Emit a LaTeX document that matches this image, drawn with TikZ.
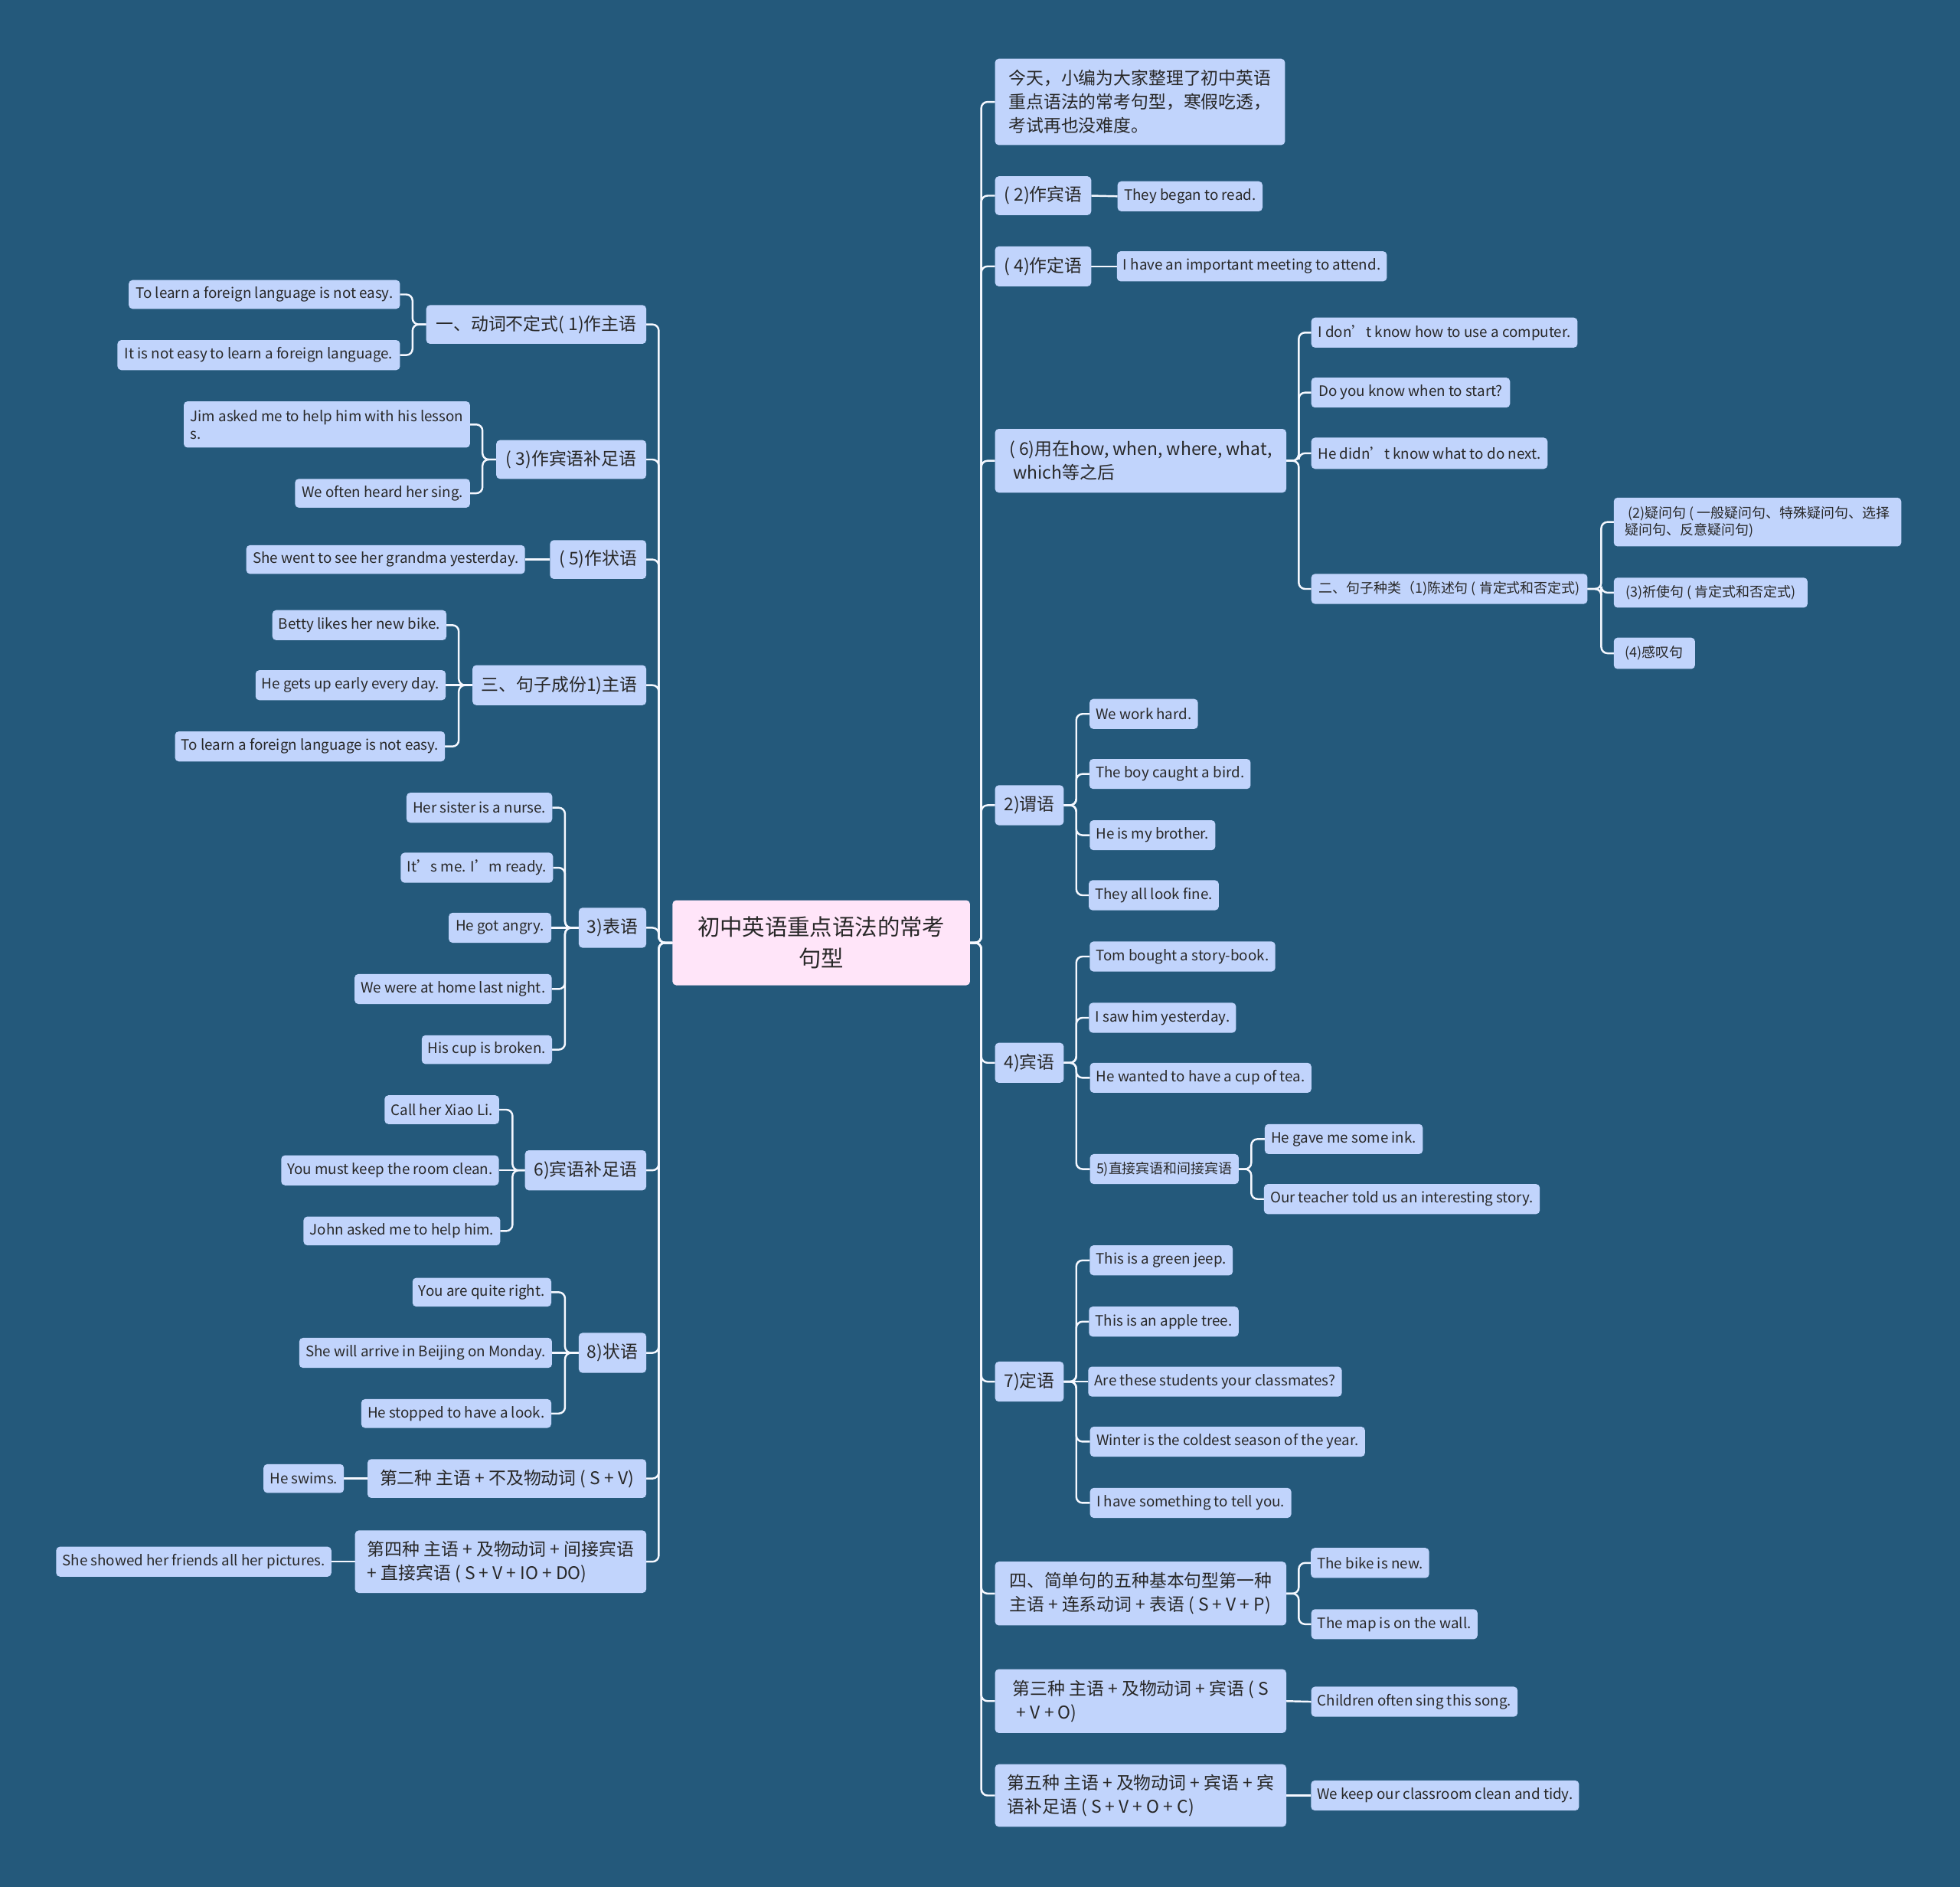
\documentclass[tikz,border=0pt]{standalone}
\usepackage{fontspec}
\setmainfont{Noto Sans CJK SC}
\definecolor{bgc}{RGB}{36,89,123}
\definecolor{nodec}{RGB}{193,212,252}
\definecolor{rootc}{RGB}{255,229,249}
\definecolor{txt}{RGB}{40,40,40}
\definecolor{linec}{RGB}{245,248,255}
\pgfdeclarelayer{bg}
\pgfdeclarelayer{lines}
\pgfsetlayers{bg,lines,main}
\tikzset{
 base/.style={rectangle, rounded corners=3pt, fill=nodec, text=txt, inner xsep=5pt, inner ysep=2pt, outer sep=0pt},
 mid/.style={base, font=\fontsize{14}{19}\selectfont},
 midm/.style={mid, align=left},
 leaf/.style={base, font=\fontsize{11.5}{14}\selectfont},
 leafm/.style={leaf, align=left},
 leafc/.style={base, font=\fontsize{11}{14}\selectfont},
 leafcm/.style={leafc, align=left},
 rootst/.style={base, fill=rootc, font=\fontsize{18}{25}\selectfont, align=center},
 conn/.style={draw=linec, line width=1.5pt, rounded corners=5pt},
}
\newcommand\bx[7]{\node[#6,minimum width={#4-#2},minimum height={#5-#3}] (#1) at ({(#2+#4)/2},{(#3+#5)/2}) {#7};}
\begin{document}
\begin{tikzpicture}[x=1pt,y=-1pt]
\begin{pgfonlayer}{bg}
\fill[bgc] (0,0) rectangle (1568,1509);
\end{pgfonlayer}
\useasboundingbox (0,0) rectangle (1568,1509);
% root
\bx{root}{538}{720}{776}{788}{rootst}{初中英语重点语法的常考\\句型}
% left side
\bx{l1}{341}{244}{517}{275}{mid}{一、动词不定式( 1)作主语}
\bx{l1a}{103}{224}{320}{247}{leaf}{To learn a foreign language is not easy.}
\bx{l1b}{94}{272}{320}{296}{leaf}{It is not easy to learn a foreign language.}
\bx{l2}{397}{352}{517}{383}{mid}{( 3)作宾语补足语}
\bx{l2a}{147}{321}{376}{358}{leafm}{Jim asked me to help him with his lesson\\s.}
\bx{l2b}{236}{383}{376}{406}{leaf}{We often heard her sing.}
\bx{l3}{440}{432}{517}{463}{mid}{( 5)作状语}
\bx{l3a}{197}{436}{420}{459}{leaf}{She went to see her grandma yesterday.}
\bx{l4}{378}{532}{517}{564}{mid}{三、句子成份1)主语}
\bx{l4a}{219}{488}{356}{512}{leaf}{Betty likes her new bike.}
\bx{l4b}{205}{536}{356}{560}{leaf}{He gets up early every day.}
\bx{l4c}{140}{585}{356}{609}{leaf}{To learn a foreign language is not easy.}
\bx{l5}{463}{726}{517}{758}{mid}{3)表语}
\bx{l5a}{326}{634}{441}{658}{leaf}{Her sister is a nurse.}
\bx{l5b}{322}{682}{441}{706}{leaf}{It’s me. I’m ready.}
\bx{l5c}{359}{730}{441}{754}{leaf}{He got angry.}
\bx{l5d}{284}{779}{441}{803}{leaf}{We were at home last night.}
\bx{l5e}{338}{828}{441}{851}{leaf}{His cup is broken.}
\bx{l6}{420}{920}{517}{952}{mid}{6)宾语补足语}
\bx{l6a}{308}{876}{399}{899}{leaf}{Call her Xiao Li.}
\bx{l6b}{225}{924}{399}{948}{leaf}{You must keep the room clean.}
\bx{l6c}{244}{973}{399}{996}{leaf}{John asked me to help him.}
\bx{l7}{463}{1066}{517}{1098}{mid}{8)状语}
\bx{l7a}{330}{1022}{441}{1045}{leaf}{You are quite right.}
\bx{l7b}{240}{1070}{441}{1094}{leaf}{She will arrive in Beijing on Monday.}
\bx{l7c}{289}{1119}{441}{1142}{leaf}{He stopped to have a look.}
\bx{l8}{294}{1167}{517}{1198}{mid}{第二种 主语 + 不及物动词 ( S + V)}
\bx{l8a}{211}{1171}{275}{1194}{leaf}{He swims.}
\bx{l9}{284}{1224}{517}{1274}{midm}{第四种 主语 + 及物动词 + 间接宾语\\+ 直接宾语 ( S + V + IO + DO)}
\bx{l9a}{47}{1237}{263}{1261}{leaf}{She showed her friends all her pictures.}
% right side
\bx{r1}{796}{47}{1028}{116}{midm}{今天，小编为大家整理了初中英语\\重点语法的常考句型，寒假吃透，\\考试再也没难度。}
\bx{r2}{796}{141}{873}{172}{mid}{( 2)作宾语}
\bx{r2a}{894}{145}{1010}{169}{leaf}{They began to read.}
\bx{r3}{796}{197}{873}{229}{mid}{( 4)作定语}
\bx{r3a}{894}{201}{1109}{225}{leaf}{I have an important meeting to attend.}
\bx{r4}{796}{343}{1029}{394}{midm}{( 6)用在how, when, where, what,\\~which等之后}
\bx{r4a}{1049}{254}{1262}{278}{leaf}{I don’t know how to use a computer.}
\bx{r4b}{1049}{302}{1208}{326}{leaf}{Do you know when to start?}
\bx{r4c}{1049}{350}{1238}{375}{leaf}{He didn’t know what to do next.}
\bx{r4d}{1049}{459}{1270}{483}{leafc}{二、句子种类（1)陈述句 ( 肯定式和否定式)}
\bx{r4d1}{1291}{398}{1521}{437}{leafcm}{~(2)疑问句 ( 一般疑问句、特殊疑问句、选择\\疑问句、反意疑问句)}
\bx{r4d2}{1291}{462}{1446}{486}{leafc}{(3)祈使句 ( 肯定式和否定式)}
\bx{r4d3}{1291}{510}{1356}{535}{leafc}{(4)感叹句}
\bx{r5}{796}{628}{851}{660}{mid}{2)谓语}
\bx{r5a}{872}{559}{958}{583}{leaf}{We work hard.}
\bx{r5b}{872}{607}{1000}{631}{leaf}{The boy caught a bird.}
\bx{r5c}{872}{656}{972}{680}{leaf}{He is my brother.}
\bx{r5d}{872}{704}{974}{728}{leaf}{They all look fine.}
\bx{r6}{796}{834}{851}{866}{mid}{4)宾语}
\bx{r6a}{872}{753}{1020}{777}{leaf}{Tom bought a story-book.}
\bx{r6b}{872}{802}{988}{826}{leaf}{I saw him yesterday.}
\bx{r6c}{872}{850}{1049}{874}{leaf}{He wanted to have a cup of tea.}
\bx{r6d}{872}{923}{991}{947}{leafc}{5)直接宾语和间接宾语}
\bx{r6d1}{1012}{899}{1138}{923}{leaf}{He gave me some ink.}
\bx{r6d2}{1012}{947}{1231}{971}{leaf}{Our teacher told us an interesting story.}
\bx{r7}{796}{1089}{851}{1121}{mid}{7)定语}
\bx{r7a}{872}{996}{986}{1020}{leaf}{This is a green jeep.}
\bx{r7b}{872}{1045}{990}{1069}{leaf}{This is an apple tree.}
\bx{r7c}{872}{1093}{1072}{1117}{leaf}{Are these students your classmates?}
\bx{r7d}{872}{1141}{1092}{1165}{leaf}{Winter is the coldest season of the year.}
\bx{r7e}{872}{1190}{1033}{1214}{leaf}{I have something to tell you.}
\bx{r8}{796}{1249}{1029}{1300}{midm}{四、简单句的五种基本句型第一种\\主语 + 连系动词 + 表语 ( S + V + P)}
\bx{r8a}{1049}{1238}{1143}{1262}{leaf}{The bike is new.}
\bx{r8b}{1049}{1287}{1182}{1311}{leaf}{The map is on the wall.}
\bx{r9}{796}{1335}{1029}{1386}{midm}{第三种 主语 + 及物动词 + 宾语 ( S\\~+ V + O)}
\bx{r9a}{1049}{1349}{1214}{1373}{leaf}{Children often sing this song.}
\bx{r10}{796}{1411}{1029}{1461}{midm}{第五种 主语 + 及物动词 + 宾语 + 宾\\语补足语 ( S + V + O + C)}
\bx{r10a}{1049}{1424}{1263}{1448}{leaf}{We keep our classroom clean and tidy.}
% connectors
\begin{pgfonlayer}{lines}
\foreach \c in {l1,l2,l3,l4,l5,l6,l7,l8,l9}
  \draw[conn] (root.west) -- ++(-11,0) |- (\c.east);
\foreach \c in {r1,r2,r3,r4,r5,r6,r7,r8,r9,r10}
  \draw[conn] (root.east) -- ++(9,0) |- (\c.west);
\foreach \c in {l1a,l1b} \draw[conn] (l1.west) -- ++(-11,0) |- (\c.east);
\foreach \c in {l2a,l2b} \draw[conn] (l2.west) -- ++(-11,0) |- (\c.east);
\draw[conn] (l3.west) -- (l3a.east);
\foreach \c in {l4a,l4c} \draw[conn] (l4.west) -- ++(-11,0) |- (\c.east);
\draw[conn] (l4.west) -- (l4b.east);
\foreach \c in {l5a,l5b,l5d,l5e} \draw[conn] (l5.west) -- ++(-11,0) |- (\c.east);
\draw[conn] (l5.west) -- (l5c.east);
\foreach \c in {l6a,l6c} \draw[conn] (l6.west) -- ++(-10,0) |- (\c.east);
\draw[conn] (l6.west) -- (l6b.east);
\foreach \c in {l7a,l7c} \draw[conn] (l7.west) -- ++(-11,0) |- (\c.east);
\draw[conn] (l7.west) -- (l7b.east);
\draw[conn] (l8.west) -- (l8a.east);
\draw[conn] (l9.west) -- (l9a.east);
\draw[conn] (r2.east) -- (r2a.west);
\draw[conn] (r3.east) -- (r3a.west);
\foreach \c in {r4a,r4b,r4c,r4d} \draw[conn] (r4.east) -- ++(10,0) |- (\c.west);
\foreach \c in {r4d1,r4d2,r4d3} \draw[conn] (r4d.east) -- ++(11,0) |- (\c.west);
\foreach \c in {r5a,r5b,r5c,r5d} \draw[conn] (r5.east) -- ++(10,0) |- (\c.west);
\foreach \c in {r6a,r6b,r6c,r6d} \draw[conn] (r6.east) -- ++(10,0) |- (\c.west);
\foreach \c in {r6d1,r6d2} \draw[conn] (r6d.east) -- ++(10,0) |- (\c.west);
\foreach \c in {r7a,r7b,r7d,r7e} \draw[conn] (r7.east) -- ++(10,0) |- (\c.west);
\draw[conn] (r7.east) -- (r7c.west);
\foreach \c in {r8a,r8b} \draw[conn] (r8.east) -- ++(10,0) |- (\c.west);
\draw[conn] (r9.east) -- (r9a.west);
\draw[conn] (r10.east) -- (r10a.west);
\end{pgfonlayer}
\end{tikzpicture}
\end{document}
